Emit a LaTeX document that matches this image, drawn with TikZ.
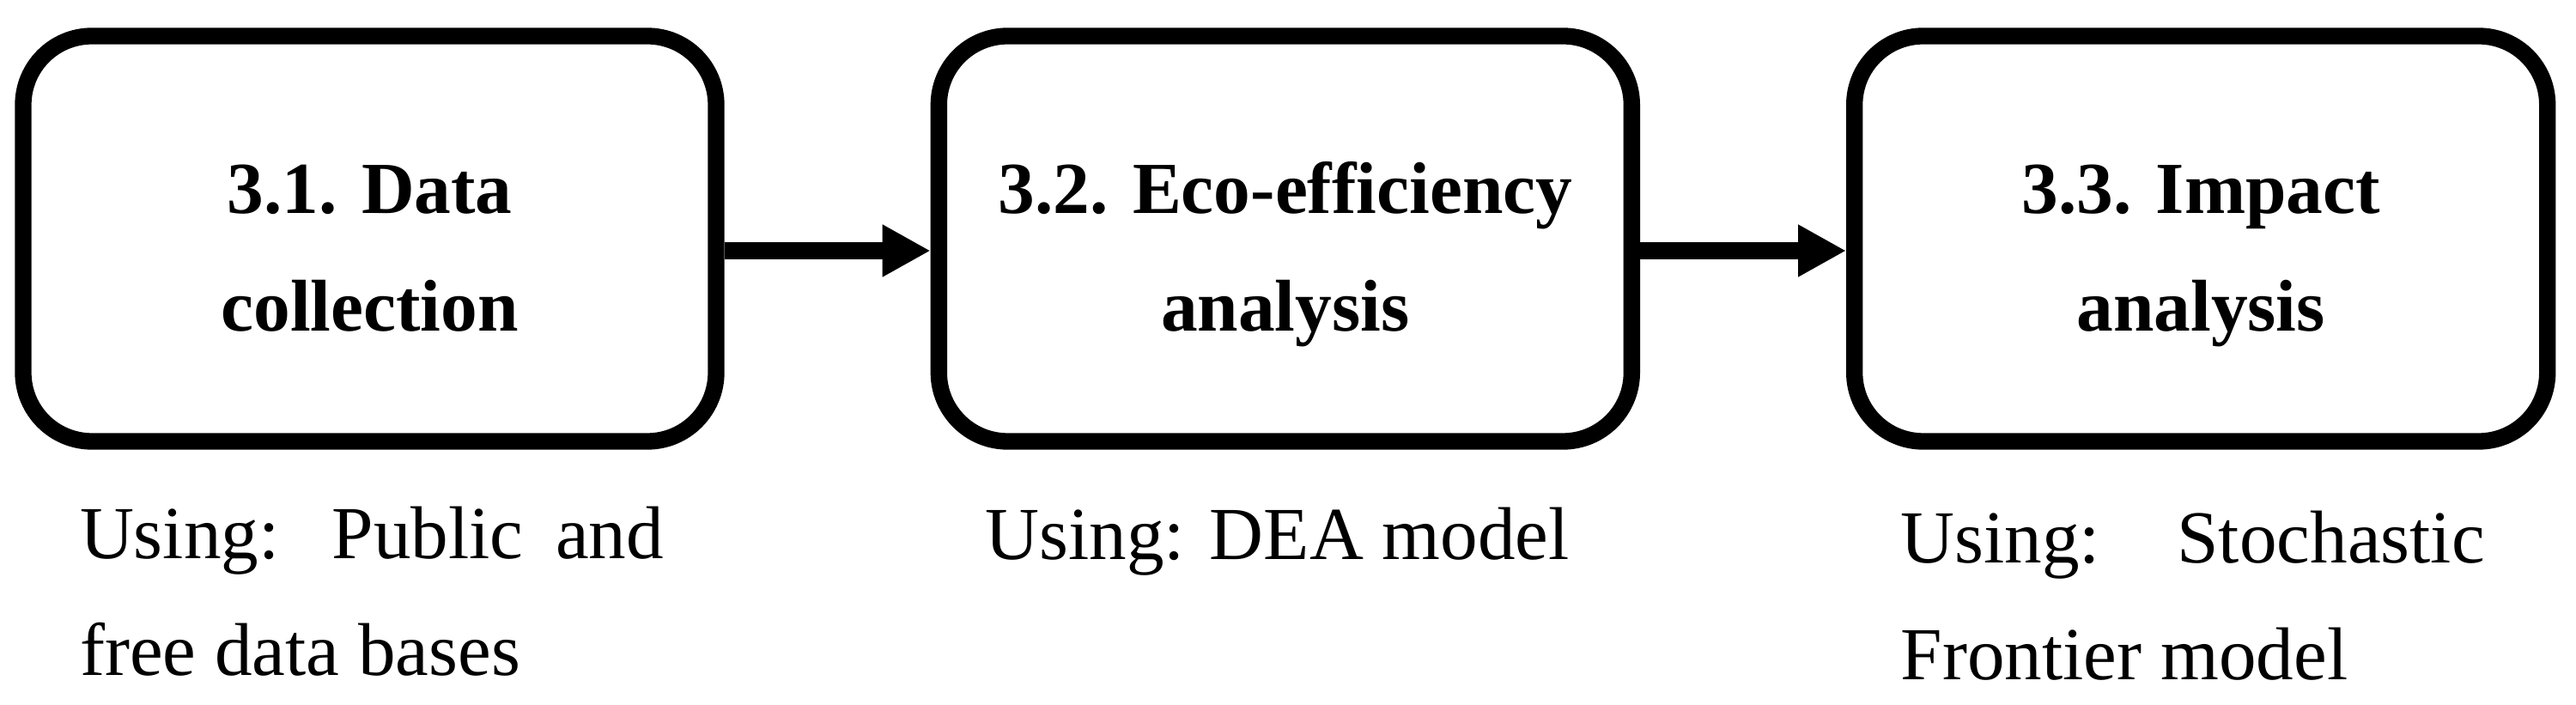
\documentclass[tikz,border=0pt]{standalone}
\usepackage{fontspec}
\setmainfont{Liberation Serif}
\usepackage{tikz}
\usetikzlibrary{arrows.meta,positioning,calc}
\newcommand{\stagetext}[2]{\rule{0pt}{1.08cm}#1\\#2\rule[-0.3cm]{0pt}{0.3cm}}

\begin{document}
\begin{tikzpicture}
\tikzset{stage/.style={draw,line width=5.5pt,rounded corners=0.8cm,
minimum width=8.07cm,minimum height=4.72cm,align=center,
font=\fontsize{24.3}{38.7}\selectfont\bfseries}}
\tikzset{note/.style={inner sep=0pt,text width=6.8cm,align=justify,
font=\fontsize{24.8}{38.7}\selectfont\sloppy}}
\tikzset{flow/.style={line width=5.5pt,-{Triangle[length=0.56cm,width=0.57cm]}}}
\useasboundingbox (0,0) rectangle (30,8.2);
\node[stage] (data) at (4.305,5.42) {\stagetext{3.1. Data}{collection}};
\node[stage,right=2.4cm of data] (eco) {\stagetext{3.2. Eco-efficiency}{analysis}};
\node[stage,right=2.4cm of eco] (impact) {\stagetext{3.3. Impact}{analysis}};
\draw[flow] ([yshift=-0.14cm]data.east) -- ([yshift=-0.14cm]eco.west);
\draw[flow] ([yshift=-0.14cm]eco.east) -- ([yshift=-0.14cm]impact.west);
\node[note,anchor=base west] (datanote) at ([xshift=0.75cm,yshift=-1.27cm]data.south west)
{Using: Public and free data bases};
\node[note,anchor=base west,text width=7.4cm] (econote) at ([xshift=0.63cm,yshift=-1.28cm]eco.south west)
{Using: DEA model};
\node[note,anchor=base west] (impactnote) at ([xshift=0.63cm,yshift=-1.32cm]impact.south west)
{Using: Stochastic Frontier model};
\end{tikzpicture}
\end{document}
